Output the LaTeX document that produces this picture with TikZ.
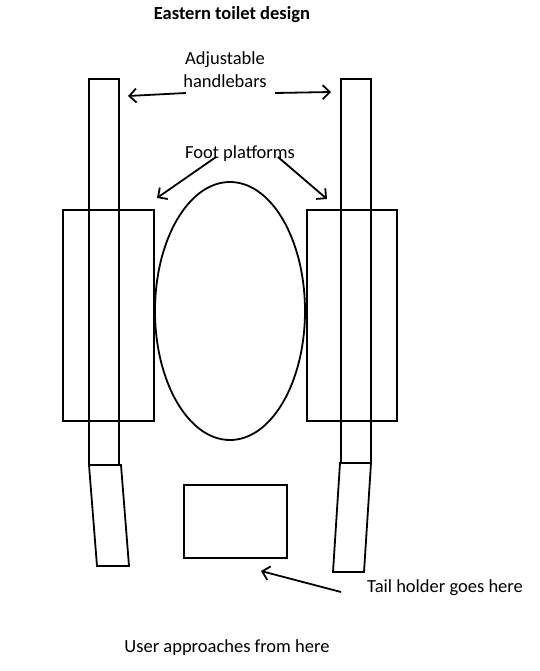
\documentclass[tikz,border=0pt]{standalone}
\usepackage{fontspec}
\setmainfont{Carlito}
\usetikzlibrary{arrows.meta,positioning,shapes.geometric}

\begin{document}
\begin{tikzpicture}[x=1pt,y=-1pt,font=\fontsize{18.5}{23}\selectfont,
part/.style={draw,line width=1.8pt,inner sep=0pt},
lab/.style={align=center,inner sep=1pt},
arr/.style={line width=1.8pt,-{Straight Barb[length=7pt,width=14pt]}}]
\useasboundingbox (0,0) rectangle (540,671);
\node[font=\fontsize{18.5}{23}\selectfont\bfseries] (title) at (232,15) {Eastern toilet design};
% bars and platforms
\node[part,minimum width=91pt,minimum height=211pt] (lplat) at (108.5,315.5) {};
\node[part,minimum width=90pt,minimum height=211pt] (rplat) at (352,315.5) {};
\node[part,minimum width=30pt,minimum height=386pt] (lbar) at (104,272) {};
\node[part,minimum width=30pt,minimum height=384pt] (rbar) at (356,271) {};
\node[part,ellipse,minimum width=150pt,minimum height=258pt] (pan) at (230,311) {};
\draw[line width=1.8pt] (89,465)--(121,465)--(129,566)--(97,566)--cycle;
\draw[line width=1.8pt] (340,463)--(371,463)--(364,572)--(333,572)--cycle;
\node[part,minimum width=103pt,minimum height=73pt] (tail) at (235.5,521.5) {};
% labels
\node[lab] (hb) at (225,70) {Adjustable\\handlebars};
\node[lab] (fp) at (240,154) {Foot platforms};
\node[lab,anchor=west] (th) at (366,588) {Tail holder goes here};
\node[lab] (user) at (227,648) {User approaches from here};
% arrows
\coordinate (hbl) at (186,93);
\coordinate (hbr) at (275,93);
\coordinate (fpl) at (216,157);
\coordinate (fpr) at (278,157);
\coordinate (thl) at (341,592);
\coordinate (hblend) at (128,96);
\coordinate (hbrend) at (331,92);
\coordinate (fplend) at (157,198);
\coordinate (fprend) at (327,199);
\coordinate (thlend) at (261,571);
\draw[arr] (hbl)--(hblend);
\draw[arr] (hbr)--(hbrend);
\draw[arr] (fpl)--(fplend);
\draw[arr] (fpr)--(fprend);
\draw[arr] (thl)--(thlend);
\end{tikzpicture}
\end{document}
